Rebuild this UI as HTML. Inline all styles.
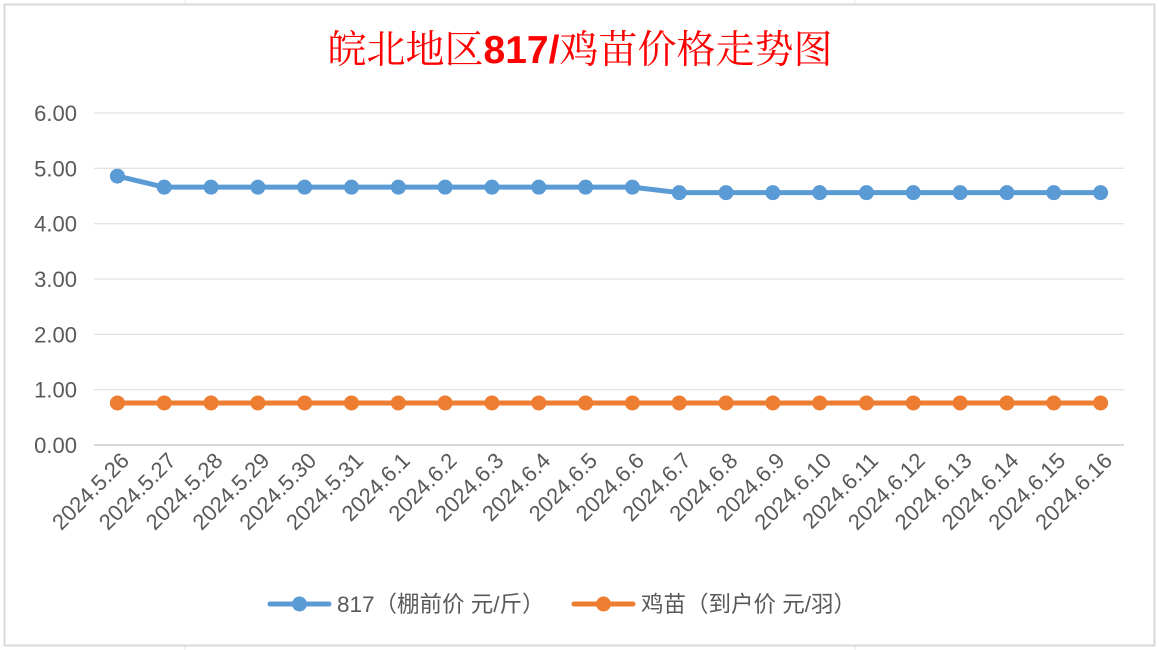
<!DOCTYPE html>
<html><head><meta charset="utf-8"><style>
body{margin:0;background:#fff;}
svg{display:block;font-family:"Liberation Sans","Noto Sans CJK SC",sans-serif;}
</style></head><body>
<svg width="1159" height="650" viewBox="0 0 1159 650">
<rect x="0" y="0" width="1159" height="650" fill="#fff"/>
<g stroke="#e4e4e4" stroke-width="1">
<line x1="185" y1="0" x2="185" y2="4"/><line x1="855" y1="0" x2="855" y2="4"/>
<line x1="185" y1="646" x2="185" y2="650"/><line x1="855" y1="646" x2="855" y2="650"/>
</g>
<rect x="4.5" y="4.5" width="1150" height="641" fill="#fff" stroke="#d9d9d9" stroke-width="2"/>
<text x="580" y="63" text-anchor="middle" font-size="39" fill="#ff0000" font-family="'Noto Serif CJK SC','Liberation Serif',serif">皖北地区<tspan font-family="'Liberation Sans',sans-serif" font-weight="bold">817/</tspan>鸡苗价格走势图</text>
<g id="grid"></g>
<g id="ylabels"></g>
<g id="xlabels"></g>
<g id="series"></g>
<g>
<g>
<line x1="270" y1="604" x2="329" y2="604" stroke="#5b9bd5" stroke-width="5" stroke-linecap="round"/>
<circle cx="299.5" cy="604" r="7.5" fill="#5b9bd5"/>
<text x="337" y="612" font-size="22.5" fill="#595959">817（棚前价 元/斤）</text>
</g>
<g>
<line x1="574" y1="604" x2="633" y2="604" stroke="#ed7d31" stroke-width="5" stroke-linecap="round"/>
<circle cx="603.5" cy="604" r="7.5" fill="#ed7d31"/>
<text x="641" y="612" font-size="22.5" fill="#595959">鸡苗（到户价 元/羽）</text>
</g>
</g>
</svg>
<script>
const categories=["2024.5.26","2024.5.27","2024.5.28","2024.5.29","2024.5.30","2024.5.31","2024.6.1","2024.6.2","2024.6.3","2024.6.4","2024.6.5","2024.6.6","2024.6.7","2024.6.8","2024.6.9","2024.6.10","2024.6.11","2024.6.12","2024.6.13","2024.6.14","2024.6.15","2024.6.16"];
const series817=[4.86,4.66,4.66,4.66,4.66,4.66,4.66,4.66,4.66,4.66,4.66,4.66,4.56,4.56,4.56,4.56,4.56,4.56,4.56,4.56,4.56,4.56];
const seriesChick=[0.76,0.76,0.76,0.76,0.76,0.76,0.76,0.76,0.76,0.76,0.76,0.76,0.76,0.76,0.76,0.76,0.76,0.76,0.76,0.76,0.76,0.76];
const yTicks=[0,1,2,3,4,5,6];
const NS="http://www.w3.org/2000/svg";
const yMin=0,yMax=6,py0=445,py1=113,px0=94,px1=1124;
function y(v){return py0-(v-yMin)/(yMax-yMin)*(py0-py1);}
const step=(px1-px0)/categories.length;
function x(i){return px0+step*(i+0.5);}
function mk(tag,attrs,parent){const e=document.createElementNS(NS,tag);for(const k in attrs)e.setAttribute(k,attrs[k]);parent.appendChild(e);return e;}
const grid=document.getElementById('grid'),yl=document.getElementById('ylabels'),xl=document.getElementById('xlabels'),sg=document.getElementById('series');
yTicks.forEach(t=>{
  const l=mk('line',{x1:px0,x2:px1,y1:y(t),y2:y(t),stroke:t===0?'#d9d9d9':'#e4e4e4','stroke-width':t===0?2:1.3},grid);
  
  
  const tx=mk('text',{x:77,y:y(t)+8,'text-anchor':'end','font-size':22,fill:'#595959'},yl);
  tx.textContent=t.toFixed(2);
  
  
});
categories.forEach((c,i)=>{
  const cx=x(i)+13,cy=462;
  const tx=mk('text',{x:cx,y:cy,'text-anchor':'end','font-size':22,fill:'#595959',transform:`rotate(-45 ${cx} ${cy})`},xl);
  tx.textContent=c;
  
  
});
function draw(vals,color,name){
  const g=mk('g',{},sg);
  
  
  const pl=mk('polyline',{points:vals.map((v,i)=>x(i)+','+y(v)).join(' '),fill:'none',stroke:color,'stroke-width':5,'stroke-linejoin':'round'},g);
  
  
  vals.forEach((v,i)=>{
    const c=mk('circle',{cx:x(i),cy:y(v),r:7.5,fill:color},g);
    
    
  });
}
draw(series817,'#5b9bd5','series-817');
draw(seriesChick,'#ed7d31','series-chick');
</script>
</body></html>
